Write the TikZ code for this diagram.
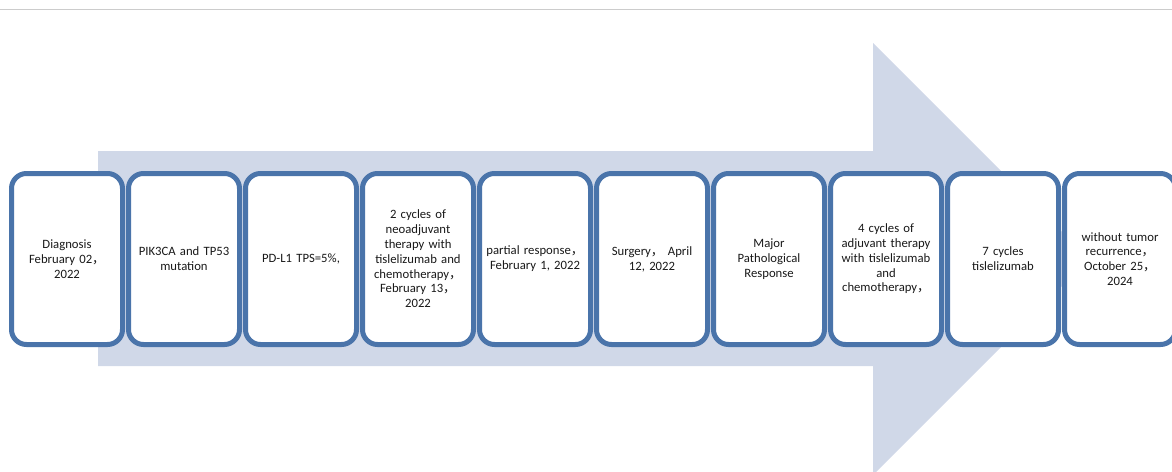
\documentclass[tikz,border=0pt]{standalone}
\usepackage{fontspec}
\setmainfont{Carlito}
\newfontfamily\cjk{Noto Sans CJK SC}
\usetikzlibrary{positioning}
\definecolor{boxblue}{RGB}{74,116,170}
\definecolor{arrowfill}{RGB}{208,216,232}

\begin{document}
\begin{tikzpicture}[x=1pt, y=-1pt, node distance=1pt,
	stage/.style={rounded corners=15pt, draw=boxblue, line width=5pt, fill=white,
		minimum width=111pt, minimum height=171pt, text width=106pt, inner sep=0pt,
		align=center, text=black!90, font=\fontsize{12.7}{14.8}\selectfont}]
		\useasboundingbox (0,0) rectangle (1172,471);
		\clip (0,0) rectangle (1172,471);
		\draw[black!20, line width=1pt] (0,9.5) -- (1172,9.5);
		\fill[arrowfill] (98,151) -- (873,151) -- (873,43) -- (1089,259) -- (873,475) -- (873,366) -- (98,366) -- cycle;

		\node[stage] (D) at (67,259) {Diagnosis\\February 02{\cjk，}\\2022};
		\node[stage, right=of D] (M) {PIK3CA and TP53\\mutation};
		\node[stage, right=of M] (P) {PD-L1 TPS=5\%,};
		\node[stage, right=of P] (N) {2 cycles of\\neoadjuvant\\therapy with\\tislelizumab and\\chemotherapy{\cjk，}\\February 13{\cjk，}\\2022};
		\node[stage, right=of N] (R) {partial response{\cjk，}\\February 1, 2022};
		\node[stage, right=of R] (S) {Surgery{\cjk，} April\\12, 2022};
		\node[stage, right=of S] (MPR) {Major\\Pathological\\Response};
		\node[stage, right=of MPR] (A) {4 cycles of\\adjuvant therapy\\with tislelizumab\\and\\chemotherapy{\cjk，}};
		\node[stage, right=of A] (T) {7 cycles\\tislelizumab};
		\node[stage, right=of T] (F) {without tumor\\recurrence{\cjk，}\\October 25{\cjk，}\\2024};
	\end{tikzpicture}
\end{document}
